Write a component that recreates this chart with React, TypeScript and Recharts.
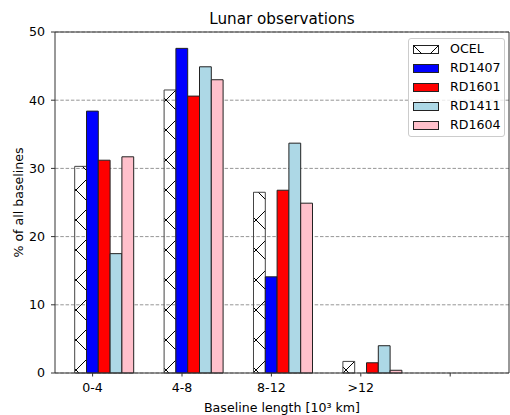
import React from "react";
import {
  Bar,
  BarChart,
  CartesianGrid,
  ReferenceLine,
  XAxis,
  YAxis
} from "recharts";

const categories = ["0-4", "4-8", "8-12", ">12", ""];
const ocel = [30.3, 41.5, 26.5, 1.7, 0];
const rd1407 = [38.4, 47.6, 14.1, 0, 0];
const rd1601 = [31.2, 40.6, 26.8, 1.5, 0];
const rd1411 = [17.5, 44.9, 33.7, 4.0, 0];
const rd1604 = [31.7, 43.0, 24.9, 0.4, 0];
const yTicks = [0, 10, 20, 30, 40, 50];

const SERIES = [
  { key: "OCEL", values: ocel, fill: "url(#hatchX)", hatch: true },
  { key: "RD1407", values: rd1407, fill: "#0000ff" },
  { key: "RD1601", values: rd1601, fill: "#ff0000" },
  { key: "RD1411", values: rd1411, fill: "#add8e6" },
  { key: "RD1604", values: rd1604, fill: "#ffc0cb" }
];

const data = categories.map((cat, i) => {
  const row: Record<string, string | number> = { cat };
  SERIES.forEach((s) => (row[s.key] = s.values[i]));
  return row;
});

const FONT = "'DejaVu Sans', sans-serif";
const FS = 12.6;
const BAR_W = 11.8;
const EDGE = "#222";

// matplotlib puts the tick under the second bar of each group
function XTick(props: any) {
  const { x, y, payload } = props;
  const cx = x - BAR_W;
  return (
    <g>
      <line x1={cx} x2={cx} y1={y} y2={y + 3.5} stroke="#333" strokeWidth={1} />
      <text x={cx} y={y + 18.6} textAnchor="middle" fontSize={FS} fontFamily={FONT} fill="#000">
        {payload.value}
      </text>
    </g>
  );
}

function YLabel(props: any) {
  const { x, y, height } = props.viewBox;
  const lx = x + 22.5;
  const ly = y + height / 2;
  return (
    <text
      x={lx}
      y={ly}
      transform={`rotate(-90, ${lx}, ${ly})`}
      textAnchor="middle"
      fontSize={FS}
      fontFamily={FONT}
      fill="#000"
    >
      % of all baselines
    </text>
  );
}

function Swatch({ fill, hatch }: { fill: string; hatch?: boolean }) {
  return (
    <svg width={26} height={9} style={{ display: "block" }}>
      <rect x={0.5} y={0.5} width={25} height={8} fill={hatch ? "none" : fill} stroke={EDGE} strokeWidth={1} />
      {hatch ? (
        <path d="M0.5,0.5 L9,9 M25.5,0.5 L17,9" stroke="#000" strokeWidth={1} fill="none" />
      ) : null}
    </svg>
  );
}

export default function App() {
  return (
    <div style={{ position: "absolute", left: 0, top: 0, width: 510, height: 415, fontFamily: FONT }}>
      <div
        style={{
          position: "absolute",
          left: 55,
          width: 454,
          top: 9,
          lineHeight: "20px",
          fontSize: 15.2,
          textAlign: "center",
          color: "#000"
        }}
      >
        Lunar observations
      </div>
      <BarChart
        width={510}
        height={415}
        data={data}
        margin={{ top: 32, right: 0, bottom: 0, left: 0 }}
        barGap={0}
        barSize={BAR_W}
      >
        <defs>
          <pattern id="hatchX" patternUnits="userSpaceOnUse" x={61} y={85} width={30} height={30}>
            <path d="M-1,-1 L31,31 M31,-1 L-1,31" stroke="#000" strokeWidth={1} fill="none" />
          </pattern>
        </defs>
        <CartesianGrid vertical={false} stroke="#8a8a8a" strokeWidth={0.9} strokeDasharray="3.5 1.8" />
        <XAxis
          dataKey="cat"
          height={42}
          padding={{ left: 4.7, right: 2.3 }}
          tickLine={false}
          tickSize={0}
          tickMargin={0}
          interval={0}
          axisLine={{ stroke: "#333", strokeWidth: 1 }}
          tick={<XTick />}
          label={{
            value: "Baseline length [10³ km]",
            position: "insideBottom",
            offset: 3.5,
            fontSize: FS,
            fontFamily: FONT,
            fill: "#000"
          }}
        />
        <YAxis
          width={55}
          domain={[0, 50]}
          ticks={yTicks}
          tickSize={4}
          tickMargin={6}
          axisLine={{ stroke: "#333", strokeWidth: 1 }}
          tickLine={{ stroke: "#333", strokeWidth: 1 }}
          tick={{ fontSize: FS, fontFamily: FONT, fill: "#000" }}
          label={<YLabel />}
        />
        <YAxis
          yAxisId="right"
          orientation="right"
          width={1}
          domain={[0, 50]}
          tick={false}
          tickLine={false}
          axisLine={{ stroke: "#333", strokeWidth: 1 }}
        />
        <ReferenceLine y={50} stroke="#333" strokeWidth={1} />
        {SERIES.map((s) => (
          <Bar
            key={s.key}
            dataKey={s.key}
            fill={s.fill}
            stroke={s.hatch ? "#444" : EDGE}
            strokeWidth={1}
            isAnimationActive={false}
          />
        ))}
      </BarChart>
      <div
        style={{
          position: "absolute",
          left: 408,
          top: 38,
          width: 97,
          height: 99,
          boxSizing: "border-box",
          border: "1px solid #cccccc",
          borderRadius: 3,
          background: "rgba(255,255,255,0.8)",
          paddingTop: 1
        }}
      >
        {SERIES.map((s) => (
          <div key={s.key} style={{ display: "flex", alignItems: "center", height: 18.9 }}>
            <div style={{ marginLeft: 4 }}>
              <Swatch fill={s.fill} hatch={s.hatch} />
            </div>
            <span style={{ marginLeft: 11, fontSize: FS, lineHeight: "14px", color: "#000", whiteSpace: "nowrap" }}>
              {s.key}
            </span>
          </div>
        ))}
      </div>
    </div>
  );
}
